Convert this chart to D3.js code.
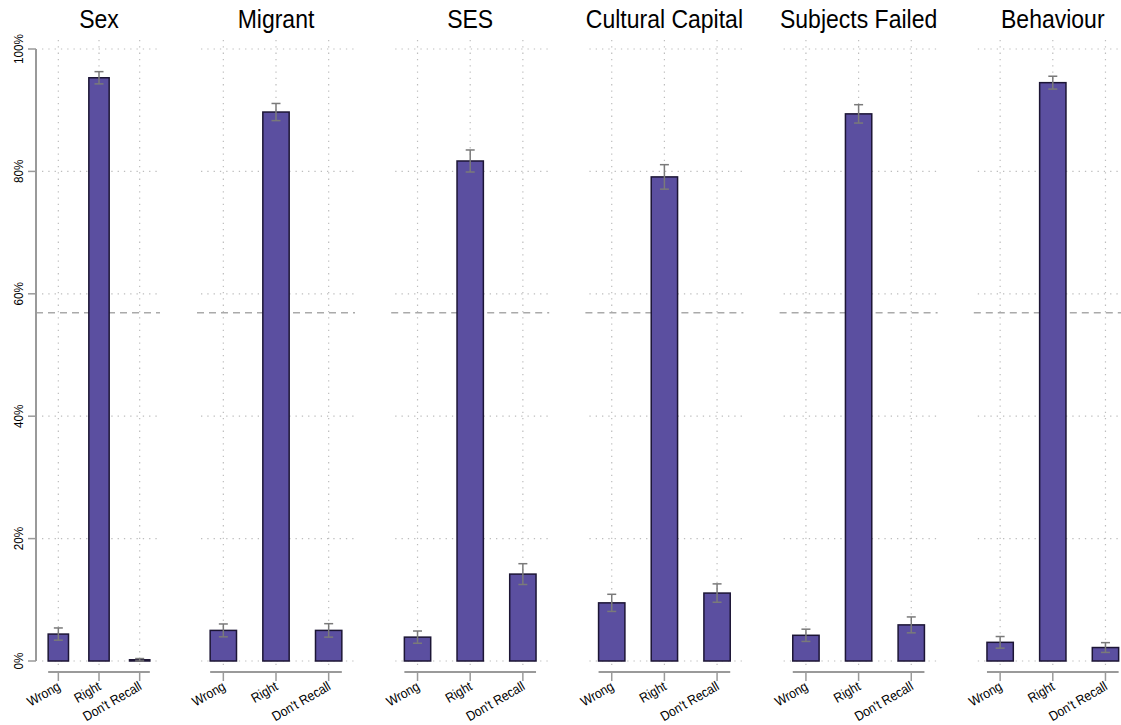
<!DOCTYPE html>
<html>
<head>
<meta charset="utf-8">
<script src="https://cdn.jsdelivr.net/npm/d3@7"></script>
<style>
  body { margin: 0; background: #fff; }
  svg { display: block; font-family: "Liberation Sans", Arial, sans-serif; }
</style>
</head>
<body>
<div id="chart"></div>
<script>
// Données (en %)
const panels = ["Sex", "Migrant", "SES", "Cultural Capital", "Subjects Failed", "Behaviour"];
const answers = ["Wrong", "Right", "Don't Recall"];
const wrongPct  = [4.4, 5.0, 3.9, 9.5, 4.2, 3.05];
const rightPct  = [95.3, 89.7, 81.7, 79.1, 89.4, 94.5];
const recallPct = [0.2, 5.0, 14.2, 11.1, 5.9, 2.2];
const wrongErr  = [1.0, 1.05, 1.0, 1.4, 1.0, 0.95];
const rightErr  = [1.0, 1.4, 1.8, 2.0, 1.5, 1.05];
const recallErr = [0.2, 1.1, 1.7, 1.5, 1.3, 0.8];
const yTicks = [0, 20, 40, 60, 80, 100];
const refLine = 56.9;

const width = 1121, height = 725;

const svg = d3.select("#chart").append("svg")
    .attr("width", width)
    .attr("height", height);

// Échelle verticale commune
const y = d3.scaleLinear().domain([0, 100]).range([661, 49]);

// Position des panneaux : le premier est plus étroit (axe des y)
function panelRange(i) {
    if (i === 0) return [38, 160];
    const left = 197 + (i - 1) * 194.2;
    return [left, left + 158];
}

panels.forEach((name, i) => {
    const [x0, x1] = panelRange(i);
    const x = d3.scaleBand().domain(answers).range([x0, x1])
        .paddingInner(0.5).paddingOuter(0.25);
    const bw = x.bandwidth();
    const cx = d => x(d) + bw / 2;

    const g = svg.append("g");

    const rows = answers.map((a, j) => ({
        answer: a,
        value: [wrongPct, rightPct, recallPct][j][i],
        err: [wrongErr, rightErr, recallErr][j][i]
    }));

    // Grille horizontale pointillée
    g.selectAll("line.hgrid")
        .data(yTicks)
        .join("line")
        .attr("class", "hgrid")
        .attr("x1", x0 + 4).attr("x2", x1)
        .attr("y1", d => y(d)).attr("y2", d => y(d))
        .attr("stroke", "#bdbdbd")
        .attr("stroke-width", 1.2)
        .attr("stroke-dasharray", "1.3,5");

    // Grille verticale pointillée
    g.selectAll("line.vgrid")
        .data(answers)
        .join("line")
        .attr("class", "vgrid")
        .attr("x1", cx).attr("x2", cx)
        .attr("y1", 40).attr("y2", 668)
        .attr("stroke", "#bdbdbd")
        .attr("stroke-width", 1.2)
        .attr("stroke-dasharray", "1.3,5");

    // Ligne de référence en tirets
    g.append("line")
        .attr("x1", i === 0 ? 36 : x0).attr("x2", x1)
        .attr("y1", y(refLine)).attr("y2", y(refLine))
        .attr("stroke", "#aaaaaa")
        .attr("stroke-width", 1.6)
        .attr("stroke-dasharray", "7,5");

    // Barres
    g.selectAll("rect.bar")
        .data(rows)
        .join("rect")
        .attr("class", "bar")
        .attr("x", d => x(d.answer))
        .attr("y", d => y(d.value))
        .attr("width", bw)
        .attr("height", d => y(0) - y(d.value))
        .attr("fill", "#5b4fa0")
        .attr("stroke", "#1c1535")
        .attr("stroke-width", 1.5);

    // Barres d'erreur
    const eb = g.selectAll("g.err")
        .data(rows)
        .join("g")
        .attr("class", "err")
        .attr("stroke", "#7a7a7a")
        .attr("stroke-width", 1.5);
    eb.append("line")
        .attr("x1", d => cx(d.answer)).attr("x2", d => cx(d.answer))
        .attr("y1", d => y(d.value + d.err)).attr("y2", d => y(Math.max(0, d.value - d.err)));
    eb.append("line")
        .attr("x1", d => cx(d.answer) - 4.5).attr("x2", d => cx(d.answer) + 4.5)
        .attr("y1", d => y(d.value + d.err)).attr("y2", d => y(d.value + d.err));
    eb.append("line")
        .attr("x1", d => cx(d.answer) - 4.5).attr("x2", d => cx(d.answer) + 4.5)
        .attr("y1", d => y(Math.max(0, d.value - d.err))).attr("y2", d => y(Math.max(0, d.value - d.err)));

    // Axe des x
    g.append("line")
        .attr("x1", x(answers[0])).attr("x2", x(answers[2]) + bw)
        .attr("y1", 672).attr("y2", 672)
        .attr("stroke", "#9a9a9a")
        .attr("stroke-width", 2);
    g.selectAll("line.xtick")
        .data(answers)
        .join("line")
        .attr("class", "xtick")
        .attr("x1", cx).attr("x2", cx)
        .attr("y1", 672).attr("y2", 681)
        .attr("stroke", "#9a9a9a")
        .attr("stroke-width", 1.5);
    g.selectAll("text.xlabel")
        .data(answers)
        .join("text")
        .attr("class", "xlabel")
        .attr("transform", d => `translate(${cx(d) + 3},${689}) rotate(-30) scale(0.9,1)`)
        .attr("text-anchor", "end")
        .attr("font-size", "13.5px")
        .attr("fill", "#000")
        .text(d => d);

    // Titre du panneau (police resserrée)
    svg.append("text")
        .attr("transform", `translate(${(x0 + x1) / 2},28) scale(0.92,1)`)
        .attr("text-anchor", "middle")
        .attr("font-size", "25px")
        .attr("fill", "#000")
        .text(name);
});

// Axe des y (premier panneau seulement)
const yAxis = svg.append("g");
yAxis.append("line")
    .attr("x1", 36).attr("x2", 36)
    .attr("y1", y(100)).attr("y2", y(0))
    .attr("stroke", "#9a9a9a")
    .attr("stroke-width", 2);
yAxis.selectAll("line.ytick")
    .data(yTicks)
    .join("line")
    .attr("class", "ytick")
    .attr("x1", 28).attr("x2", 36)
    .attr("y1", d => y(d)).attr("y2", d => y(d))
    .attr("stroke", "#9a9a9a")
    .attr("stroke-width", 1.5);
yAxis.selectAll("text.ylabel")
    .data(yTicks)
    .join("text")
    .attr("class", "ylabel")
    .attr("transform", d => `translate(23,${y(d)}) rotate(-90) scale(0.9,1)`)
    .attr("text-anchor", "middle")
    .attr("font-size", "13px")
    .attr("fill", "#000")
    .text(d => d + "%");
</script>
</body>
</html>
